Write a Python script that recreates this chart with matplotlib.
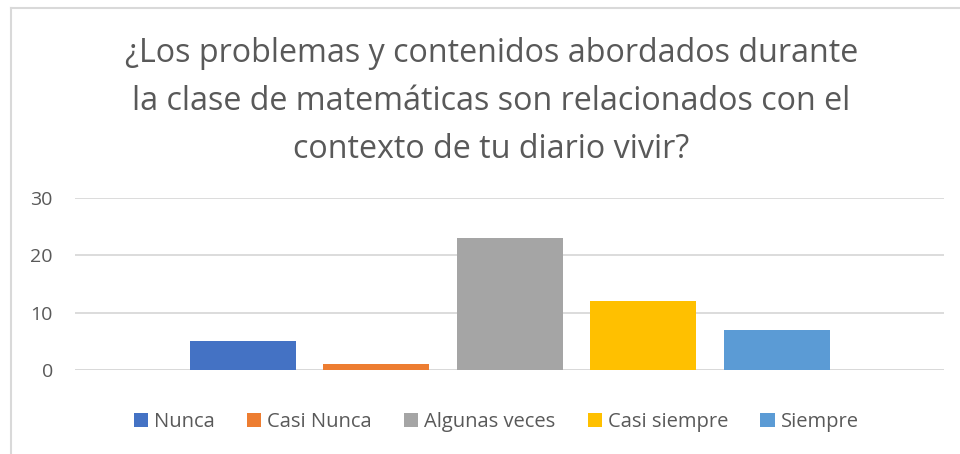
import matplotlib.pyplot as plt
from matplotlib.lines import Line2D
from matplotlib.patches import Patch

# data
series = ['Nunca', 'Casi Nunca', 'Algunas veces', 'Casi siempre', 'Siempre']
values = [5, 1, 23, 12, 7]
colors = ['#4472C4', '#ED7D31', '#A5A5A5', '#FFC000', '#5B9BD5']
yticks = [0, 10, 20, 30]
title = '¿Los problemas y contenidos abordados durante\nla clase de matemáticas son relacionados con el\ncontexto de tu diario vivir?'

plt.rcParams['font.family'] = ['Open Sans', 'DejaVu Sans']

W, H = 960, 454
fig = plt.figure(figsize=(W / 100, H / 100), dpi=100)
fig.patch.set_facecolor('white')

# plot area in pixels
left, right, top, bottom = 75, 944, 198, 370
ax = fig.add_axes([left / W, 1 - bottom / H, (right - left) / W, (bottom - top) / H])

# one category, five clustered series
n = len(values)
bw = 106 / (right - left)
step = 133.5 / (right - left)
for i, (v, c) in enumerate(zip(values, colors)):
    x = 0.5 + (i - (n - 1) / 2) * step
    ax.bar(x, v, width=bw, color=c, zorder=3)

ax.set_xlim(0, 1)
ax.set_ylim(0, 30)
ax.set_yticks(yticks)
ax.set_xticks([])
ax.grid(axis='y', color='#D9D9D9', linewidth=1.3, zorder=0)
ax.set_axisbelow(True)
for s in ax.spines.values():
    s.set_visible(False)
ax.axhline(0, color='#D9D9D9', linewidth=1.3, zorder=1)
ax.tick_params(axis='y', length=0, pad=16, labelsize=14, labelcolor='#595959')

fig.text(491.5 / W, 1 - 101 / H, title, ha='center', va='center', fontsize=23.2,
         color='#595959', linespacing=1.6)

handles = [Patch(facecolor=c, edgecolor='none') for c in colors]
fig.legend(handles, series, loc='center', bbox_to_anchor=(0.517, 1 - 422 / H),
           ncol=5, frameon=False, fontsize=14.5, labelcolor='#595959',
           handlelength=0.7, handleheight=0.7, handletextpad=0.3,
           columnspacing=1.6)

# chart border (top and left visible in the crop)
fig.add_artist(Line2D([11 / W, 1], [1 - 7.5 / H, 1 - 7.5 / H], color='#D9D9D9', linewidth=1.5))
fig.add_artist(Line2D([11 / W, 11 / W], [0, 1 - 7.5 / H], color='#D9D9D9', linewidth=1.5))

fig.savefig('out.png', dpi=100)
